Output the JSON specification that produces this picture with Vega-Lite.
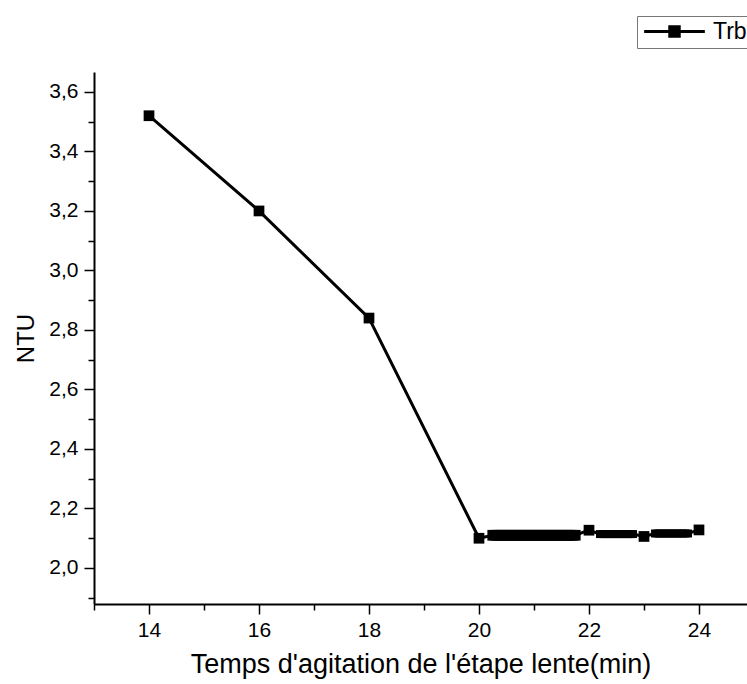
{
  "$schema": "https://vega.github.io/schema/vega-lite/v6.json",
  "autosize": {"type": "none"},
  "padding": {"left": 94, "top": 72, "right": 0, "bottom": 80},
  "width": 653,
  "height": 532,
  "background": "white",
  "config": {
    "view": {"stroke": null},
    "font": "Liberation Sans",
    "axis": {
      "labelFont": "Liberation Sans",
      "titleFont": "Liberation Sans",
      "labelColor": "black",
      "titleColor": "black",
      "domainColor": "black",
      "tickColor": "black",
      "domainWidth": 2,
      "tickWidth": 1.5,
      "grid": false,
      "labelFontSize": 21,
      "titleFontWeight": "normal"
    }
  },
  "data": {
    "values": [
      {"x": 14, "y": 3.52},
      {"x": 16, "y": 3.2},
      {"x": 18, "y": 2.84},
      {"x": 20, "y": 2.1},
      {"x": 20.25, "y": 2.11},
      {"x": 20.3, "y": 2.11},
      {"x": 20.35, "y": 2.11},
      {"x": 20.4, "y": 2.11},
      {"x": 20.45, "y": 2.11},
      {"x": 20.5, "y": 2.11},
      {"x": 20.55, "y": 2.11},
      {"x": 20.6, "y": 2.11},
      {"x": 20.65, "y": 2.11},
      {"x": 20.7, "y": 2.11},
      {"x": 20.75, "y": 2.11},
      {"x": 20.8, "y": 2.11},
      {"x": 20.85, "y": 2.11},
      {"x": 20.9, "y": 2.11},
      {"x": 20.95, "y": 2.11},
      {"x": 21.0, "y": 2.11},
      {"x": 21.05, "y": 2.11},
      {"x": 21.1, "y": 2.11},
      {"x": 21.15, "y": 2.11},
      {"x": 21.2, "y": 2.11},
      {"x": 21.25, "y": 2.11},
      {"x": 21.3, "y": 2.11},
      {"x": 21.35, "y": 2.11},
      {"x": 21.4, "y": 2.11},
      {"x": 21.45, "y": 2.11},
      {"x": 21.5, "y": 2.11},
      {"x": 21.55, "y": 2.11},
      {"x": 21.6, "y": 2.11},
      {"x": 21.65, "y": 2.11},
      {"x": 21.7, "y": 2.11},
      {"x": 21.75, "y": 2.11},
      {"x": 22, "y": 2.127},
      {"x": 22.2, "y": 2.114},
      {"x": 22.25, "y": 2.114},
      {"x": 22.3, "y": 2.114},
      {"x": 22.35, "y": 2.114},
      {"x": 22.4, "y": 2.114},
      {"x": 22.45, "y": 2.114},
      {"x": 22.5, "y": 2.114},
      {"x": 22.55, "y": 2.114},
      {"x": 22.6, "y": 2.114},
      {"x": 22.65, "y": 2.114},
      {"x": 22.7, "y": 2.114},
      {"x": 22.75, "y": 2.114},
      {"x": 22.8, "y": 2.114},
      {"x": 23, "y": 2.106},
      {"x": 23.2, "y": 2.116},
      {"x": 23.25, "y": 2.116},
      {"x": 23.3, "y": 2.116},
      {"x": 23.35, "y": 2.116},
      {"x": 23.4, "y": 2.116},
      {"x": 23.45, "y": 2.116},
      {"x": 23.5, "y": 2.116},
      {"x": 23.55, "y": 2.116},
      {"x": 23.6, "y": 2.116},
      {"x": 23.65, "y": 2.116},
      {"x": 23.7, "y": 2.116},
      {"x": 23.75, "y": 2.116},
      {"x": 23.8, "y": 2.116},
      {"x": 24, "y": 2.128}
    ]
  },
  "encoding": {
    "x": {
      "field": "x",
      "type": "quantitative",
      "scale": {"domain": [13, 24.873], "nice": false, "zero": false},
      "axis": {
        "title": "Temps d'agitation de l'étape lente(min)",
        "titleFontSize": 27,
        "values": [13, 14, 15, 16, 17, 18, 19, 20, 21, 22, 23, 24],
        "labelExpr": "datum.value % 2 == 0 ? datum.label : ''",
        "tickSize": {"condition": {"test": "datum.value % 2 == 1", "value": 6}, "value": 10},
        "labelPadding": 5,
        "titlePadding": 11,
        "labelFlush": false
      }
    },
    "y": {
      "field": "y",
      "type": "quantitative",
      "scale": {"domain": [1.879, 3.667], "nice": false, "zero": false},
      "axis": {
        "title": "NTU",
        "titleFontSize": 24,
        "values": [1.9, 2.0, 2.1, 2.2, 2.3, 2.4, 2.5, 2.6, 2.7, 2.8, 2.9, 3.0, 3.1, 3.2, 3.3, 3.4, 3.5, 3.6],
        "labelExpr": "round(datum.value*10) % 2 == 0 ? replace(format(datum.value, '.1f'), '.', ',') : ''",
        "tickSize": {"condition": {"test": "round(datum.value*10) % 2 == 1", "value": 6}, "value": 10},
        "labelPadding": 6,
        "titlePadding": 10,
        "labelFlush": false
      }
    }
  },
  "layer": [
    {
      "mark": {"type": "line", "stroke": "black", "strokeWidth": 3},
      "encoding": {
        "color": {
          "datum": "Trb",
          "scale": {"range": ["black"]},
          "legend": {
            "title": null,
            "orient": "none",
            "legendX": 543,
            "legendY": -56,
            "strokeColor": "#777",
            "padding": 4,
            "symbolType": "M-6.4,0H-1.3M1.3,0H6.4M-1,-1H1V1H-1Z",
            "symbolSize": 90,
            "symbolStrokeWidth": 3,
            "symbolFillColor": "black",
            "symbolStrokeColor": "black",
            "symbolOffset": 22,
            "labelOffset": 27,
            "labelFontSize": 23,
            "labelFont": "Liberation Sans",
            "labelColor": "black"
          }
        }
      }
    },
    {
      "transform": [{"filter": "datum.x % 1 == 0 || (datum.x > 20 && datum.x < 22)"}],
      "mark": {"type": "point", "shape": "square", "filled": true, "color": "black", "opacity": 1, "size": 115}
    },
    {
      "transform": [{"filter": "datum.x % 1 != 0 && datum.x > 22"}],
      "mark": {"type": "point", "shape": "square", "filled": true, "color": "black", "opacity": 1, "size": 64}
    }
  ]
}
